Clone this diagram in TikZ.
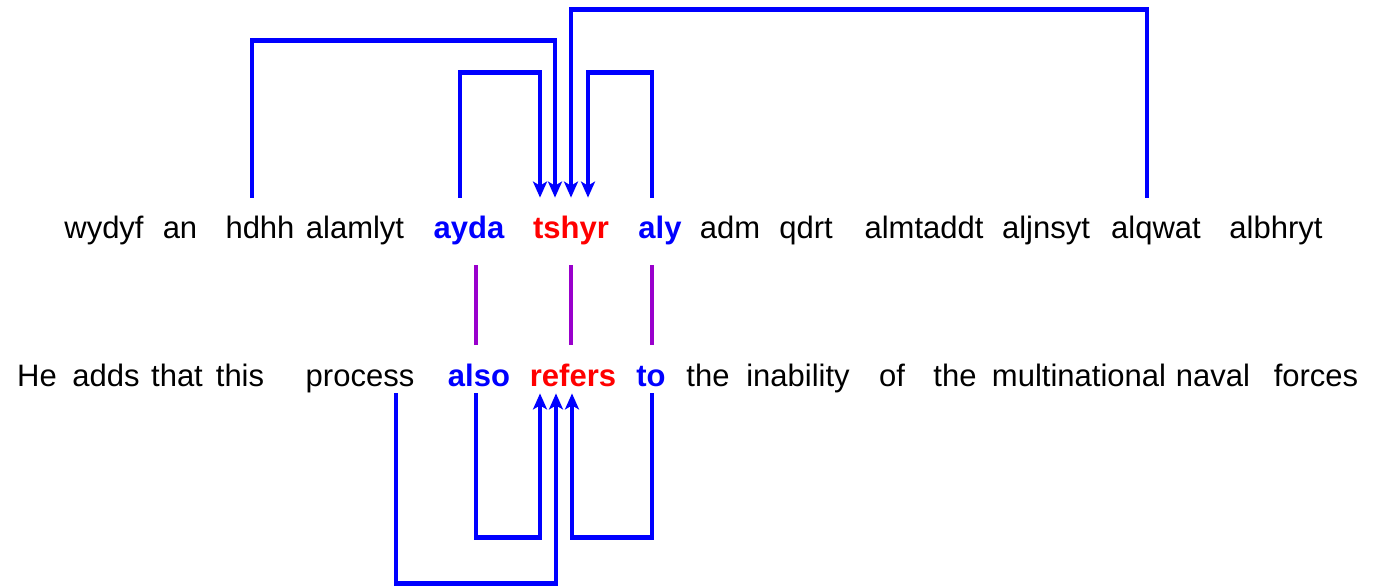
\documentclass[tikz,border=0pt]{standalone}
\usepackage{fontspec}
\setmainfont{Liberation Sans}
\usetikzlibrary{arrows.meta}
\definecolor{linkblue}{RGB}{0,0,255}
\definecolor{headred}{RGB}{255,0,0}
\definecolor{alignpurple}{RGB}{153,0,204}
\begin{document}
\begin{tikzpicture}[x=0.5pt,y=-0.5pt,
  word/.style={font=\fontsize{15.5}{18}\selectfont, inner sep=0pt, anchor=base},
  src/.style={word, text height=20pt, text depth=13.5pt},
  tgt/.style={word, text height=20.5pt, text depth=3.5pt},
  hl/.style={font=\fontsize{15.5}{18}\selectfont\bfseries, text=linkblue},
  hd/.style={font=\fontsize{15.5}{18}\selectfont\bfseries, text=headred},
  link/.style={draw=linkblue, line width=2.2pt},
  ptr/.style={link, -{Stealth[length=8pt,width=7pt,inset=2pt]}},
  pair/.style={draw=alignpurple, line width=2.2pt}]
\useasboundingbox (0,0) rectangle (1381,585);

% source sentence
\node[src] (s1)  at (104,238)  {wydyf};
\node[src] (s2)  at (180,238)  {an};
\node[src] (s3)  at (260,238)  {hdhh};
\node[src] (s4)  at (355,238)  {alamlyt};
\node[src,hl] (s5) at (469,238) {ayda};
\node[src,hd] (s6) at (571,238) {tshyr};
\node[src,hl] (s7) at (660,238) {aly};
\node[src] (s8)  at (730,238)  {adm};
\node[src] (s9)  at (806,238)  {qdrt};
\node[src] (s10) at (924,238)  {almtaddt};
\node[src] (s11) at (1046,238) {aljnsyt};
\node[src] (s12) at (1156,238) {alqwat};
\node[src] (s13) at (1276,238) {albhryt};

% target sentence
\node[tgt] (t1)  at (37,386)   {He};
\node[tgt] (t2)  at (106,386)  {adds};
\node[tgt] (t3)  at (177,386)  {that};
\node[tgt] (t4)  at (240,386)  {this};
\node[tgt] (t5)  at (360,386)  {process};
\node[tgt,hl] (t6) at (479,386) {also};
\node[tgt,hd] (t7) at (573,386) {refers};
\node[tgt,hl] (t8) at (651,386) {to};
\node[tgt] (t9)  at (708,386)  {the};
\node[tgt] (t10) at (798,386)  {inability};
\node[tgt] (t11) at (892,386)  {of};
\node[tgt] (t12) at (955,386)  {the};
\node[tgt] (t13) at (1079,386) {multinational};
\node[tgt] (t14) at (1213,386) {naval};
\node[tgt] (t15) at (1316,386) {forces};

% dependencies above the source sentence
\draw[ptr] ([xshift=-4pt]s3.north)    -- ++(0,-157) -| ([xshift=-8pt]s6.north);
\draw[ptr] ([xshift=-4.5pt]s5.north)  -- ++(0,-125) -| ([xshift=-15.5pt]s6.north);
\draw[ptr] ([xshift=-4.5pt]s12.north) -- ++(0,-188) -| (s6.north);
\draw[ptr] ([xshift=-4pt]s7.north)    -- ++(0,-125) -| ([xshift=8.5pt]s6.north);

% word alignment
\draw[pair] ([xshift=3.5pt]s5.south) -- ++(0,80);
\draw[pair] (s6.south) -- ++(0,80);
\draw[pair] ([xshift=-4pt]s7.south) -- ++(0,80);

% dependencies below the target sentence
\draw[ptr] ([xshift=18pt]t5.south)   -- ++(0,190) -| ([xshift=-8.5pt]t7.south);
\draw[ptr] ([xshift=-1.5pt]t6.south) -- ++(0,144) -| ([xshift=-16.5pt]t7.south);
\draw[ptr] ([xshift=0.5pt]t8.south)  -- ++(0,144) -| ([xshift=-0.5pt]t7.south);
\end{tikzpicture}
\end{document}
